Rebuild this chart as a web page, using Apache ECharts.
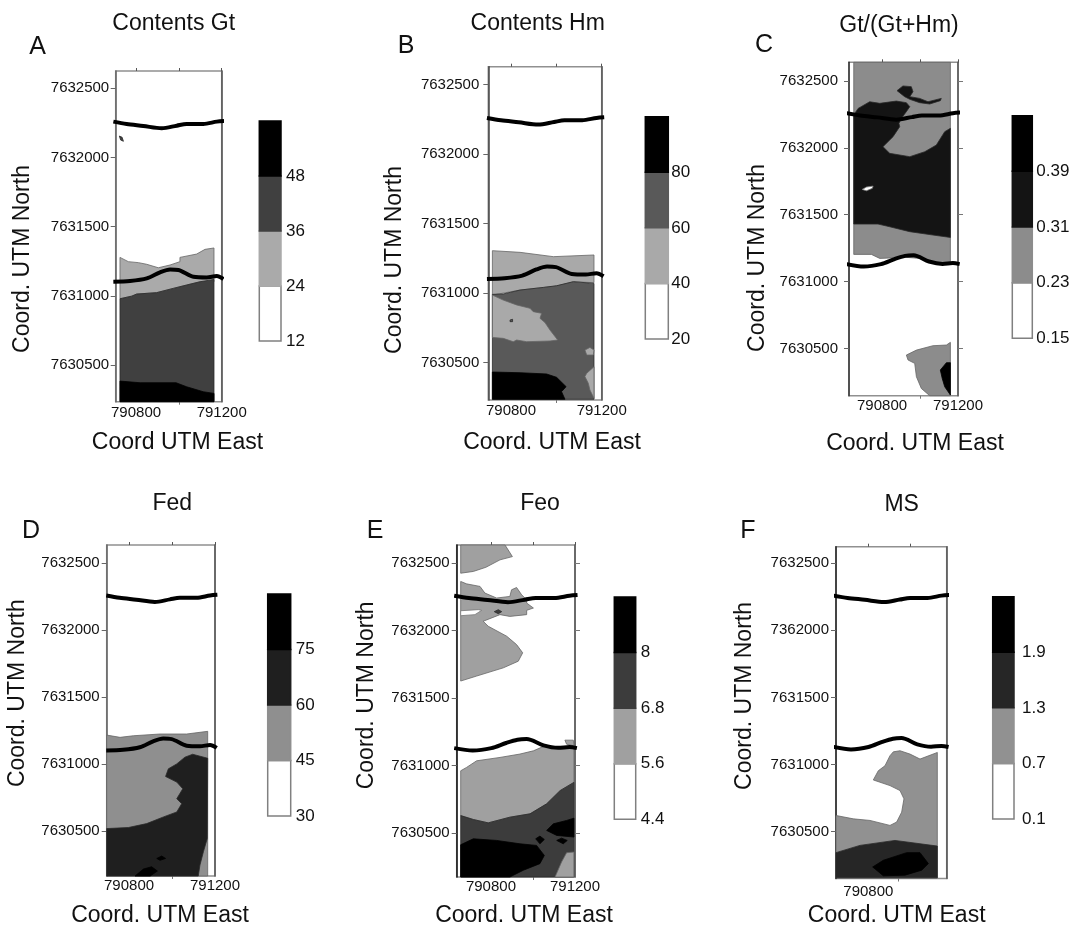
<!DOCTYPE html>
<html>
<head>
<meta charset="utf-8">
<title>Contents maps</title>
<script src="https://cdn.jsdelivr.net/npm/echarts@6/dist/echarts.min.js"></script>
<style>
  html, body { margin: 0; padding: 0; background: #fff; }
  #chart { width: 1073px; height: 928px; }
</style>
</head>
<body>
<div id="chart"></div>
<script>
// all map points are [east - 790000, north - 7630000]
const EAST_BASE = 790000;
const NORTH_BASE = 7630000;

const northTicks = [7630500, 7631000, 7631500, 7632000, 7632500];
const northLabels = ["7630500", "7631000", "7631500", "7632000", "7632500"];
const northLabelsF = ["7630500", "7631000", "7631500", "7362000", "7632500"];

// road lines
const roadNorthTop = [2259, 2242, 2228, 2211, 2230, 2242, 2242, 2259, 2264];
const roadEastTopAB = [694, 756, 834, 920, 990, 1036, 1114, 1177, 1211];
const roadEastTopC = [613, 685, 776, 875, 957, 1010, 1100, 1173, 1213];
const roadEastTopE = [625, 695, 784, 881, 961, 1013, 1102, 1174, 1212];
const roadEastTopF = [633, 700, 783, 876, 951, 1000, 1084, 1151, 1188];
const roadNorthLowAB = [1102, 1107, 1126, 1170, 1191, 1187, 1138, 1133, 1143, 1121];
const roadNorthLowC = [1130, 1112, 1130, 1168, 1192, 1197, 1150, 1132, 1138, 1130];
const roadEastLowAB = [694, 772, 850, 912, 959, 998, 1068, 1130, 1177, 1208];
const roadEastLowC = [613, 704, 794, 866, 921, 966, 1047, 1119, 1173, 1209];
const roadEastLowE = [625, 713, 802, 872, 926, 970, 1050, 1120, 1174, 1209];
const roadEastLowF = [633, 717, 801, 867, 918, 959, 1035, 1101, 1151, 1185];

// A - Contents Gt
const gtBreaks = [12, 24, 36, 48, 60];
const gtGreys = ["#ffffff", "#aaaaaa", "#404040", "#000000"];
const gtLight = [[725,1278],[764,1247],[811,1240],[850,1228],[904,1203],[959,1223],[1005,1247],[1005,1278],[1083,1302],[1122,1336],[1164,1346],[1164,1102],[1099,1102],[1036,1078],[974,1054],[896,1023],[803,1013],[780,998],[725,979]];
const gtDark = [[725,979],[780,998],[803,1013],[896,1023],[974,1054],[1036,1078],[1099,1102],[1164,1119],[1164,235],[725,235]];
const gtBlack = [[725,384],[819,372],[987,372],[1036,343],[1114,307],[1164,295],[1164,235],[725,235]];
const gtSpeck = [[722,2155],[735,2146],[741,2117],[728,2126]];

// B - Contents Hm
const hmBreaks = [20, 40, 60, 80, 100];
const hmGreys = ["#ffffff", "#a9a9a9", "#595959", "#000000"];
const hmLight = [[718,1305],[840,1293],[987,1262],[1166,1274],[1166,1075],[1075,1082],[1001,1051],[840,1022],[718,986]];
const hmDark = [[718,991],[766,994],[840,1022],[943,1041],[1001,1053],[1075,1082],[1166,1070],[1166,237],[718,237]];
const hmPatch = [[718,986],[766,950],[825,915],[884,891],[898,867],[935,855],[928,819],[950,788],[972,735],[1006,663],[972,656],[869,651],[825,663],[810,651],[766,675],[718,682]];
const hmSpeck = [[796,807],[807,812],[807,795],[796,795]];
const hmBlack = [[718,433],[840,428],[957,419],[1001,395],[1043,328],[1023,292],[1038,237],[718,237]];
const hmRightPatch = [[1166,471],[1134,424],[1126,400],[1141,352],[1148,304],[1166,244]];
const hmSmallPatch = [[1126,591],[1148,610],[1166,591],[1163,555],[1134,555]];

// C - Gt/(Gt+Hm)
const ratioBreaks = [0.15, 0.23, 0.31, 0.39, 0.47];
const ratioGreys = ["#ffffff", "#8c8c8c", "#141414", "#000000"];
const ratioLight = [[651,2640],[1160,2640],[1160,1136],[1068,1136],[998,1173],[928,1181],[788,1173],[744,1203],[651,1203]];
const ratioDark = [[674,2295],[735,2345],[788,2333],[875,2350],[928,2338],[946,2308],[928,2271],[902,2221],[889,2183],[893,2158],[858,2084],[805,2009],[840,1959],[946,1934],[1025,1971],[1086,2021],[1130,2121],[1160,2146],[1160,1330],[1068,1348],[946,1373],[840,1410],[779,1430],[651,1430],[651,2246]];
const ratioHole = [[695,1689],[718,1707],[753,1714],[749,1697],[718,1679]];
const ratioBlob = [[879,2428],[910,2463],[954,2458],[963,2420],[946,2383],[998,2370],[1042,2345],[1112,2370],[1107,2353],[1051,2328],[998,2338],[946,2363],[919,2383]];
const ratioLowLight = [[928,450],[981,487],[1068,520],[1139,525],[1160,545],[1160,146],[1051,146],[1007,200],[981,288],[972,388],[937,413]];
const ratioLowBlack = [[1107,338],[1139,393],[1160,393],[1160,151],[1130,213],[1117,275]];

// D - Fed
const fedBreaks = [30, 45, 60, 75, 90];
const fedGreys = ["#ffffff", "#8f8f8f", "#1f1f1f", "#000000"];
const fedLight = [[696,1217],[758,1200],[820,1212],[944,1225],[1068,1225],[1166,1245],[1166,165],[696,165]];
const fedDark = [[1096,1074],[1166,1044],[1164,445],[1146,346],[1130,247],[1122,165],[696,165],[696,519],[797,527],[882,556],[960,606],[1022,643],[1045,705],[1022,742],[1050,816],[1022,866],[970,908],[983,965],[1022,1002],[1060,1052]];
const fedSpeckA = [[929,296],[952,314],[970,296],[944,282]];
const fedSpeckB = [[828,165],[867,217],[905,234],[932,202],[898,165]];

// E - Feo
const feoBreaks = [4.4, 5.6, 6.8, 8, 9.2];
const feoGreys = ["#ffffff", "#a0a0a0", "#3c3c3c", "#000000"];
const feoTopPatch = [[656,2635],[867,2635],[902,2549],[843,2525],[776,2470],[716,2439],[656,2426]];
const feoMidPatch = [[656,2365],[684,2347],[748,2328],[771,2279],[827,2242],[890,2254],[898,2303],[922,2320],[946,2266],[970,2229],[970,2205],[1002,2168],[970,2151],[970,2119],[890,2106],[843,2119],[763,2070],[787,2033],[875,1959],[922,1897],[951,1836],[930,1774],[859,1725],[732,1664],[656,1627]];
const feoNotch = [[656,2148],[740,2156],[756,2151],[724,2119],[656,2111]];
const feoSpeck = [[816,2141],[835,2156],[851,2141],[835,2126]];
const feoRoadPatch = [[1152,1189],[1192,1189],[1195,1147],[1160,1159]];
const feoLight = [[656,962],[684,987],[732,1036],[843,1061],[938,1086],[1002,1110],[1057,1147],[1195,1127],[1195,876],[1129,815],[1065,717],[986,643],[890,618],[787,576],[716,601],[656,630]];
const feoDark = [[656,630],[716,601],[787,576],[890,618],[986,643],[1065,717],[1129,815],[1195,876],[1195,175],[656,175]];
const feoBlack = [[656,414],[716,458],[827,446],[938,421],[1017,409],[1054,335],[1033,274],[954,225],[890,175],[656,175]];
const feoBlackRight = [[1065,520],[1097,569],[1160,594],[1195,611],[1195,471],[1113,483]];
const feoSpeckA = [[1013,458],[1033,478],[1054,453],[1033,421]];
const feoSpeckB = [[1113,446],[1136,463],[1163,446],[1144,421]];
const feoLowPatch = [[1105,175],[1136,286],[1160,355],[1195,360],[1195,175]];

// F - MS
const msBreaks = [0.1, 0.7, 1.3, 1.9, 2.5];
const msGreys = ["#ffffff", "#919191", "#262626", "#000000"];
const msLight = [[904,1065],[920,1094],[952,1102],[1000,1077],[1048,1040],[1131,1089],[1131,154],[645,154],[645,619],[728,594],[808,582],[904,545],[936,570],[960,644],[971,743],[952,805],[904,842],[824,884],[848,953],[880,990]];
const msDark = [[645,342],[760,396],[928,433],[1131,391],[1131,154],[645,154]];
const msBlack = [[821,235],[872,285],[984,342],[1048,342],[1088,260],[1056,211],[976,174],[872,169]];

// pixel layout of every panel, kept apart from the data
const panels = [
  { letter: "A", title: "Contents Gt", xName: "Coord UTM East",
    frame: [115.7, 71, 221.7, 401.7], east: [705, 1200], north: [235, 2625], bar: [259.3, 121, 281, 341],
    breaks: gtBreaks, greys: gtGreys, northText: northLabels,
    layers: [[gtLight, 1], [gtDark, 2], [gtBlack, 3], [gtSpeck, 2]],
    roadEastTop: roadEastTopAB, roadEastLow: roadEastLowAB, roadNorthLow: roadNorthLowAB,
    eastLabels: [790800, 791200], bottomTicks: [791000],
    titleAt: [173.7, 24], letterAt: [37.7, 46.7], xNameAt: [177.5, 29.5], yNameAt: [259, 82], yGap: 6.5, xGap: 3.5, barGap: 5, leftColor: "#666666" },
  { letter: "B", title: "Contents Hm", xName: "Coord. UTM East",
    frame: [488.3, 66.7, 601.7, 400], east: [700, 1200], north: [232, 2627], bar: [645.3, 116.7, 668.3, 339],
    breaks: hmBreaks, greys: hmGreys, northText: northLabels,
    layers: [[hmLight, 1], [hmDark, 2], [hmPatch, 1], [hmSpeck, 2], [hmBlack, 3], [hmRightPatch, 1], [hmSmallPatch, 1]],
    roadEastTop: roadEastTopAB, roadEastLow: roadEastLowAB, roadNorthLow: roadNorthLowAB,
    eastLabels: [790800, 791200], bottomTicks: [791000],
    titleAt: [537.7, 24], letterAt: [406, 46], xNameAt: [552, 31], yNameAt: [260, 82.5], yGap: 9, xGap: 3.5, barGap: 3, leftColor: "#444444" },
  { letter: "C", title: "Gt/(Gt+Hm)", xName: "Coord. UTM East",
    frame: [849, 62.3, 958, 395.7], east: [626, 1200], north: [146, 2640], bar: [1012.3, 115.7, 1032.3, 338.3],
    breaks: ratioBreaks, greys: ratioGreys, northText: northLabels,
    layers: [[ratioLight, 1], [ratioDark, 2], [ratioHole, 0], [ratioBlob, 2], [ratioLowLight, 1], [ratioLowBlack, 3]],
    roadEastTop: roadEastTopC, roadEastLow: roadEastLowC, roadNorthLow: roadNorthLowC,
    eastLabels: [790800, 791200], bottomTicks: [791000], rightTicks: true,
    titleAt: [899, 26], letterAt: [764, 45], xNameAt: [915, 36], yNameAt: [258, 80], yGap: 11, xGap: 2.5, barGap: 4, leftColor: "#333333" },
  { letter: "D", title: "Fed", xName: "Coord. UTM East",
    frame: [106.7, 545, 215, 877.7], east: [696, 1200], north: [165, 2636], bar: [267.7, 594, 290.7, 816],
    breaks: fedBreaks, greys: fedGreys, northText: northLabels,
    layers: [[fedLight, 1], [fedDark, 2], [fedSpeckA, 3], [fedSpeckB, 3]],
    roadEastTop: roadEastTopAB, roadEastLow: roadEastLowAB, roadNorthLow: roadNorthLowAB,
    eastLabels: [790800, 791200], bottomTicks: [791000],
    titleAt: [172.3, 504], letterAt: [31, 531], xNameAt: [160, 28], yNameAt: [694, 77.5], yGap: 7, xGap: 2, barGap: 5, leftColor: "#666666" },
  { letter: "E", title: "Feo", xName: "Coord. UTM East",
    frame: [456.7, 545, 575, 878.3], east: [637, 1200], north: [175, 2635], bar: [614.3, 597, 635.7, 819.3],
    breaks: feoBreaks, greys: feoGreys, northText: northLabels,
    layers: [[feoTopPatch, 1], [feoMidPatch, 1], [feoNotch, 0], [feoSpeck, 2], [feoRoadPatch, 1], [feoLight, 1], [feoDark, 2], [feoBlack, 3], [feoBlackRight, 3], [feoSpeckA, 3], [feoSpeckB, 3], [feoLowPatch, 1]],
    roadEastTop: roadEastTopE, roadEastLow: roadEastLowE, roadNorthLow: roadNorthLowC,
    eastLabels: [790800, 791200], bottomTicks: [791000], rightTicks: true,
    titleAt: [540, 504], letterAt: [375, 531], xNameAt: [524, 27], yNameAt: [696, 79], yGap: 7, xGap: 2.5, barGap: 5, leftColor: "#111111" },
  { letter: "F", title: "MS", xName: "Coord. UTM East",
    frame: [836, 546.7, 946.7, 880], east: [645, 1176], north: [149, 2624], bar: [992.7, 596.7, 1014, 819],
    breaks: msBreaks, greys: msGreys, northText: northLabelsF,
    layers: [[msLight, 1], [msDark, 2], [msBlack, 3]],
    roadEastTop: roadEastTopF, roadEastLow: roadEastLowF, roadNorthLow: roadNorthLowC,
    eastLabels: [790800], bottomTicks: [790942],
    titleAt: [901.7, 505], letterAt: [748, 531], xNameAt: [896.7, 25.5], yNameAt: [696.7, 80], yGap: 7, xGap: 5.5, barGap: 8, leftColor: "#222222" },
];

const FONT = '"Liberation Sans", Arial, sans-serif';
const TEXT = "#111111";
const edgeColors = ["#777777", "#666666", "#2a2a2a", "#000000"];

function toUtm(points) {
  return points.map((p) => [EAST_BASE + p[0], NORTH_BASE + p[1]]);
}

function zip(east, north) {
  return east.map((e, i) => [e, north[i]]);
}

function polygonSeries(ring, fill, stroke, xAxisIndex, yAxisIndex, lineWidth) {
  return {
    type: "custom",
    xAxisIndex,
    yAxisIndex,
    silent: true,
    animation: false,
    data: ring,
    encode: { x: 0, y: 1 },
    renderItem(params, api) {
      if (params.dataIndex !== 0) return null;
      return {
        type: "polygon",
        shape: { points: ring.map((p) => api.coord(p)) },
        style: { fill, stroke, lineWidth },
      };
    },
  };
}

const option = {
  backgroundColor: "#ffffff",
  animation: false,
  title: [],
  grid: [],
  xAxis: [],
  yAxis: [],
  series: [],
};

panels.forEach((panel) => {
  const [left, top, right, bottom] = panel.frame;
  const [barLeft, barTop, barRight, barBottom] = panel.bar;
  const mainGrid = option.grid.length;
  const xBase = option.xAxis.length;
  const yBase = option.yAxis.length;
  const eastMin = EAST_BASE + panel.east[0];
  const eastMax = EAST_BASE + panel.east[1];
  const northMin = NORTH_BASE + panel.north[0];
  const northMax = NORTH_BASE + panel.north[1];

  option.title.push(
    { text: panel.title, left: panel.titleAt[0], top: panel.titleAt[1], padding: 0, textAlign: "center", textVerticalAlign: "middle",
      textStyle: { fontFamily: FONT, fontSize: 23, fontWeight: "normal", color: TEXT } },
    { text: panel.letter, left: panel.letterAt[0], top: panel.letterAt[1], padding: 0, textAlign: "center", textVerticalAlign: "middle",
      textStyle: { fontFamily: FONT, fontSize: 25, fontWeight: "normal", color: TEXT } }
  );

  option.grid.push(
    { left, top, width: right - left, height: bottom - top, show: true, backgroundColor: "#ffffff", borderColor: "#909090", borderWidth: 1.5 },
    { left: barLeft, top: barTop, width: barRight - barLeft, height: barBottom - barTop }
  );

  const xShift = panel.xNameAt[0] - (left + right) / 2;
  const yShift = panel.yNameAt[0] - (top + bottom) / 2;

  option.xAxis.push(
    {
      type: "value", gridIndex: mainGrid, min: eastMin, max: eastMax, position: "bottom",
      name: panel.xName, nameLocation: "middle", nameGap: panel.xNameAt[1],
      nameTextStyle: { fontFamily: FONT, fontSize: 23, color: TEXT,
        padding: xShift > 0 ? [0, 0, 0, 2 * xShift] : [0, -2 * xShift, 0, 0] },
      axisLine: { show: false },
      axisTick: { show: true, length: 3, lineStyle: { color: "#777777" }, customValues: panel.bottomTicks },
      axisLabel: { fontFamily: FONT, fontSize: 15, color: TEXT, margin: panel.xGap, customValues: panel.eastLabels, formatter: (v) => String(v) },
      splitLine: { show: false },
    },
    {
      type: "value", gridIndex: mainGrid, min: eastMin, max: eastMax, position: "top",
      axisLine: { show: false },
      axisTick: { show: true, length: 3, lineStyle: { color: "#555555" }, customValues: [790800, 791000, 791200] },
      axisLabel: { show: false },
      splitLine: { show: false },
    },
    { type: "value", gridIndex: mainGrid + 1, min: 0, max: 1, show: false }
  );

  option.yAxis.push(
    {
      type: "value", gridIndex: mainGrid, min: northMin, max: northMax, position: "left",
      name: "Coord. UTM North", nameLocation: "middle", nameGap: panel.yNameAt[1],
      nameTextStyle: { fontFamily: FONT, fontSize: 23, color: TEXT,
        padding: yShift > 0 ? [0, 2 * yShift, 0, 0] : [0, 0, 0, -2 * yShift] },
      axisLine: { show: true, lineStyle: { color: panel.leftColor, width: 1.5 } },
      axisTick: { show: true, length: 5, lineStyle: { color: "#666666" }, customValues: northTicks },
      axisLabel: { fontFamily: FONT, fontSize: 15, color: TEXT, margin: panel.yGap, customValues: northTicks,
        formatter: (v) => panel.northText[northTicks.indexOf(v)] },
      splitLine: { show: false },
    },
    {
      type: "value", gridIndex: mainGrid, min: northMin, max: northMax, position: "right",
      axisLine: { show: true, lineStyle: { color: "#555555", width: 1.5 } },
      axisTick: { show: !!panel.rightTicks, length: 5, lineStyle: { color: "#777777" }, customValues: northTicks },
      axisLabel: { show: false },
      splitLine: { show: false },
    },
    {
      type: "value", gridIndex: mainGrid + 1, min: panel.breaks[0], max: panel.breaks[4], position: "right",
      axisLine: { show: false },
      axisTick: { show: false },
      axisLabel: { fontFamily: FONT, fontSize: 17, color: TEXT, margin: panel.barGap, customValues: panel.breaks.slice(0, 4), formatter: (v) => String(v) },
      splitLine: { show: false },
    }
  );

  panel.layers.forEach(([ring, grey]) => {
    option.series.push(polygonSeries(toUtm(ring), panel.greys[grey], edgeColors[grey], xBase, yBase, 0.8));
  });

  [
    zip(panel.roadEastTop, roadNorthTop),
    zip(panel.roadEastLow, panel.roadNorthLow),
  ].forEach((road) => {
    option.series.push({
      type: "line", xAxisIndex: xBase, yAxisIndex: yBase, data: toUtm(road), clip: false, smooth: 0.3,
      symbol: "none", silent: true, z: 5, lineStyle: { color: "#000000", width: 4 },
    });
  });

  // colour scale on the right of the map, only the white class keeps a grey outline
  panel.greys.forEach((grey, i) => {
    const low = panel.breaks[i];
    const high = panel.breaks[i + 1];
    const rect = [[0, low], [1, low], [1, high], [0, high]];
    option.series.push(polygonSeries(rect, grey, i === 0 ? "#808080" : grey, xBase + 2, yBase + 2, 1.5));
  });
});

const chart = echarts.init(document.getElementById("chart"));
chart.setOption(option);
window.addEventListener("resize", () => chart.resize());
</script>
</body>
</html>
